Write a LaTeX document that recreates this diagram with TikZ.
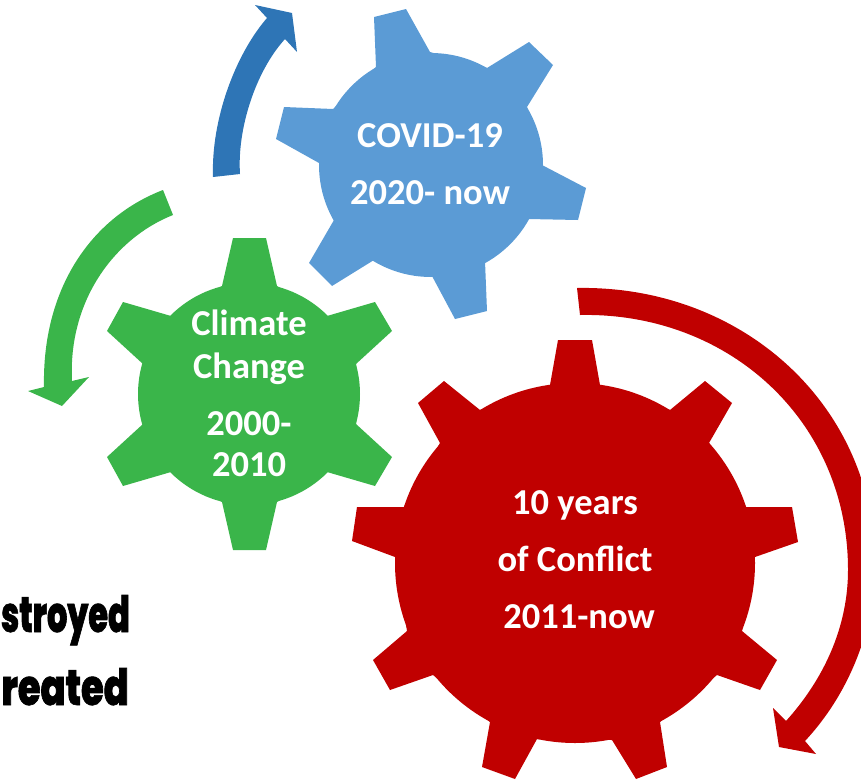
\documentclass[tikz,border=0pt]{standalone}
\usepackage{fontspec}
\setmainfont{Carlito}
\newfontfamily\condfont[FakeStretch=0.64,FakeBold=1.2]{Poppins ExtraBold}
\definecolor{gearblue}{HTML}{5B9BD5}
\definecolor{arrowblue}{HTML}{2E75B6}
\definecolor{geargreen}{HTML}{3AB54A}
\definecolor{gearred}{HTML}{C00000}
\tikzset{
  gearlabel/.style={text=white,font=\fontsize{36.5}{40}\selectfont\bfseries,inner sep=0pt,anchor=base},
  sidelabel/.style={text=black,font=\fontsize{50}{54}\condfont,inner sep=0pt,anchor=base east},
}
\begin{document}
\begin{tikzpicture}[x=1pt,y=-1pt]
\useasboundingbox (0,0) rectangle (861,779);
\clip (0,0) rectangle (861,779);
% blue gear
\fill[gearblue] (431,165) circle[radius=112];
\fill[gearblue] (376,67)--(374,17)--(406,9)--(430,52)--(487,68)--(529,42)--(553,65)--(527,107)--(542,165)--(586,188)--(578,220)--(528,219)--(485,261)--(487,311)--(455,319)--(432,276)--(374,260)--(332,286)--(309,263)--(334,220)--(319,163)--(276,139)--(284,107)--(333,109)--cycle;
% green gear
\fill[geargreen] (249,394) circle[radius=111];
\fill[geargreen] (222,286)--(233,238)--(266,238)--(277,286)--(327,316)--(375,302)--(392,331)--(356,364)--(356,424)--(392,457)--(375,486)--(327,472)--(277,502)--(266,550)--(233,550)--(222,502)--(171,472)--(123,486)--(107,457)--(143,424)--(143,364)--(107,331)--(123,302)--(171,316)--cycle;
% red gear
\fill[gearred] (575,563) circle[radius=180];
\fill[gearred] (550,385)--(558,340)--(592,340)--(600,385)--(670,410)--(705,381)--(732,403)--(709,443)--(746,507)--(792,507)--(798,542)--(755,557)--(742,631)--(777,660)--(760,690)--(717,675)--(660,722)--(667,767)--(636,779)--(612,740)--(537,739)--(515,779)--(482,767)--(490,722)--(433,675)--(390,690)--(373,660)--(407,631)--(395,557)--(352,541)--(357,507)--(404,507)--(440,443)--(418,403)--(444,381)--(480,410)--cycle;
% curved arrows
\fill[arrowblue] (213,177) .. controls (211,120) and (235,55) .. (267,18)--(255,5)--(292,13)--(297,52)--(285,39) .. controls (255,72) and (237,130) .. (240,174)--cycle;
\fill[geargreen] (163,190) .. controls (90,218) and (42,290) .. (44,387)--(28,391)--(62,406)--(89,377)--(72,381) .. controls (68,300) and (115,238) .. (173,215)--cycle;
\fill[gearred] (577,288) .. controls (742,285) and (875,405) .. (875,565) .. controls (875,630) and (848,695) .. (805,741)--(816,754)--(779,747)--(773,708)--(786,721) .. controls (823,680) and (848,628) .. (848,570) .. controls (848,420) and (728,312) .. (580,315)--cycle;
% labels
\node[gearlabel] (covidA) at (430,147) {COVID-19};
\node[gearlabel] (covidB) at (430,204) {2020- now};
\node[gearlabel] (climA) at (249,335) {Climate};
\node[gearlabel] (climB) at (249,378) {Change};
\node[gearlabel] (climC) at (249,435) {2000-};
\node[gearlabel] (climD) at (249,476) {2010};
\node[gearlabel] (confA) at (575,514) {10 years};
\node[gearlabel] (confB) at (575,571) {of Conflict};
\node[gearlabel] (confC) at (579,628) {2011-now};
\node[sidelabel] (destroyed) at (130,632) {stroyed};
\node[sidelabel,xscale=1.15] (created) at (129,705) {reated};
\end{tikzpicture}
\end{document}
